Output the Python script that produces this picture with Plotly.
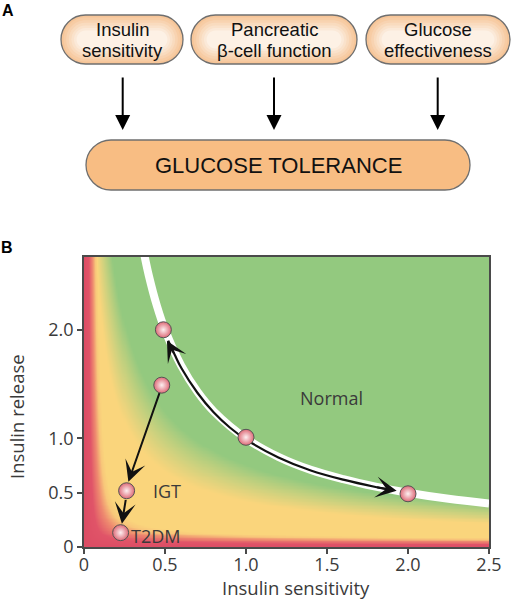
import numpy as np
import plotly.graph_objects as go

W, H = 511, 600

# ---------------- Panel A content ----------------
factor_line1 = ["Insulin", "Pancreatic", "Glucose"]
factor_line2 = ["sensitivity", "β-cell function", "effectiveness"]
outcome_label = "GLUCOSE TOLERANCE"

# ---------------- Panel B data ----------------
sens_tickvals = [0, 0.5, 1.0, 1.5, 2.0, 2.5]
sens_ticktext = ["0", "0.5", "1.0", "1.5", "2.0", "2.5"]
rel_tickvals = [0, 0.5, 1.0, 2.0]
rel_ticktext = ["0", "0.5", "1.0", "2.0"]
sens_range = [0, 2.5]
rel_range = [0, 2.67]

# white "normal" curve
curve_sens = [0.36, 0.40, 0.45, 0.50, 0.60, 0.70, 0.80, 1.00, 1.20, 1.40, 1.60, 1.80, 2.00, 2.25, 2.50]
curve_rel = [2.78, 2.50, 2.22, 2.00, 1.67, 1.43, 1.25, 1.00, 0.83, 0.71, 0.625, 0.556, 0.50, 0.444, 0.40]

# black curved arrow along the curve
path_sens = [0.52, 0.56, 0.60, 0.70, 0.80, 0.90, 1.00, 1.20, 1.40, 1.60, 1.80, 1.90]
path_rel = [1.90, 1.77, 1.65, 1.42, 1.24, 1.10, 0.99, 0.825, 0.705, 0.62, 0.552, 0.523]

# state points
pt_sens = [0.49, 0.48, 1.00, 2.00, 0.263, 0.226]
pt_rel = [2.00, 1.49, 1.01, 0.49, 0.518, 0.132]

# region labels
region_text = ["Normal", "IGT", "T2DM"]
region_sens = [1.525, 0.512, 0.44]
region_rel = [1.37, 0.516, 0.10]

# background zone levels
red_levels = [0.0, 0.011, 0.020, 0.027, 0.032]     # red -> orange -> yellow
green_levels = [0.30, 0.48, 0.68]                  # yellow -> yellow-green -> green
zone_stops = [0.0, 0.172, 0.31, 0.42, 0.5, 0.735, 1.0]
zone_colors = ["#dc4c64", "#e05468", "#ee8a6f", "#f8c77a", "#fad57c", "#c9d17e", "#93c97f"]

fig = go.Figure()

# ---- heatmap background ----
gx = np.linspace(sens_range[0], sens_range[1], 201)
gy = np.linspace(rel_range[0], rel_range[1], 201)
X = gx[None, :] * np.ones((len(gy), 1))
Y = gy[:, None] * np.ones((1, len(gx)))
U = X / sens_range[1]
V = Y / rel_range[1]
f_red = U * V / np.power(U + V + 1e-9, 0.7)
f_green = X * np.power(Y, 1.39)
Z = np.clip(f_red / red_levels[-1], 0, 1) + np.clip(
    (f_green - green_levels[0]) / (green_levels[-1] - green_levels[0]), 0, 1)
cs = [[s, c] for s, c in zip(zone_stops, zone_colors)]
fig.add_trace(go.Heatmap(x=gx, y=gy, z=Z, zmin=0, zmax=2, colorscale=cs,
                         zsmooth="best", showscale=False, hoverinfo="skip"))

fig.add_trace(go.Scatter(x=curve_sens, y=curve_rel, mode="lines",
                         line=dict(color="white", width=8, shape="spline"),
                         hoverinfo="skip", showlegend=False))
fig.add_trace(go.Scatter(x=path_sens, y=path_rel, mode="lines",
                         line=dict(color="#111111", width=2.2, shape="spline"),
                         hoverinfo="skip", showlegend=False))
fig.add_trace(go.Scatter(x=pt_sens, y=pt_rel, mode="markers",
                         marker=dict(size=16, color="#de6a77",
                                     gradient=dict(type="radial", color="#fdf0f1"),
                                     line=dict(color="#555555", width=1)),
                         hoverinfo="skip", showlegend=False))

grey = "#3a3a3a"
bfont = "Open Sans"

annotations = []
for t, x, y in zip(region_text, region_sens, region_rel):
    annotations.append(dict(x=x, y=y, xref="x", yref="y", text=t, showarrow=False,
                            xanchor="center", yanchor="middle",
                            font=dict(family=bfont, size=18, color=grey)))

def arrow(tail, tip, size=1.75):
    return dict(x=tip[0], y=tip[1], ax=tail[0], ay=tail[1], xref="x", yref="y",
                axref="x", ayref="y", text="", showarrow=True, arrowhead=3,
                arrowsize=size, arrowwidth=2, arrowcolor="#111111", standoff=0)

annotations.append(arrow((0.469, 1.43), (0.274, 0.60)))
annotations.append(arrow((0.259, 0.448), (0.234, 0.215)))
annotations.append(arrow((0.56, 1.77), (0.512, 1.90)))
annotations.append(arrow((1.80, 0.552), (1.93, 0.518)))

def px(x):
    return x / W

def py(y):
    return 1 - y / H

def ptext(x, y, text, size, family, color, angle=0):
    return dict(x=px(x), y=py(y), xref="paper", yref="paper", text=text,
                showarrow=False, xanchor="center", yanchor="middle", textangle=angle,
                font=dict(family=family, size=size, color=color))

# axis titles
annotations.append(ptext(296, 587, "Insulin sensitivity", 18.5, bfont, grey))
annotations.append(ptext(16.5, 416.5, "Insulin release", 18.5, bfont, grey, -90))

# panel letters
annotations.append(ptext(7.5, 10, "<b>A</b>", 16, "Liberation Sans", "black"))
annotations.append(ptext(6.5, 247.5, "<b>B</b>", 16, "Liberation Sans", "black"))

# ---------------- Panel A shapes ----------------
def rrect(x0, y0, x1, y1, r):
    k = 0.5523 * r
    P = lambda a, b: f"{px(a):.5f},{py(b):.5f}"
    return (f"M{P(x0 + r, y0)} L{P(x1 - r, y0)} "
            f"C{P(x1 - r + k, y0)} {P(x1, y0 + r - k)} {P(x1, y0 + r)} "
            f"L{P(x1, y1 - r)} C{P(x1, y1 - r + k)} {P(x1 - r + k, y1)} {P(x1 - r, y1)} "
            f"L{P(x0 + r, y1)} C{P(x0 + r - k, y1)} {P(x0, y1 - r + k)} {P(x0, y1 - r)} "
            f"L{P(x0, y0 + r)} C{P(x0, y0 + r - k)} {P(x0 + r - k, y0)} {P(x0 + r, y0)} Z")

shapes = []
small_boxes = [(61, 15, 183, 64), (191, 15, 357, 64), (366, 15, 510, 64)]
edge = np.array([246, 197, 152])
centre = np.array([253, 241, 229])
nl = 7
for (x0, y0, x1, y1) in small_boxes:
    r = (y1 - y0) / 2
    for i in range(nl):
        d = i * 2.6
        c = edge + (centre - edge) * (i / (nl - 1))
        col = f"rgb({int(c[0])},{int(c[1])},{int(c[2])})"
        shapes.append(dict(type="path", xref="paper", yref="paper",
                           path=rrect(x0 + d, y0 + d, x1 - d, y1 - d, r - d),
                           fillcolor=col, line=dict(width=0), layer="above"))
    shapes.append(dict(type="path", xref="paper", yref="paper",
                       path=rrect(x0, y0, x1, y1, r), fillcolor="rgba(0,0,0,0)",
                       line=dict(color="#6f6f6f", width=1.3), layer="above"))

shapes.append(dict(type="path", xref="paper", yref="paper",
                   path=rrect(86, 140, 470, 190, 25), fillcolor="#f8bd83",
                   line=dict(color="#6f6f6f", width=1.3), layer="above"))

afont = "Liberation Sans"
box_cx = [122, 274, 438]
for cx, l1, l2 in zip(box_cx, factor_line1, factor_line2):
    annotations.append(ptext(cx, 29.2, l1, 18.5, afont, "#111111"))
    annotations.append(ptext(cx, 50.0, l2, 18.5, afont, "#111111"))
annotations.append(ptext(278, 166, outcome_label, 22, afont, "#111111"))

arrow_x = [122.7, 274, 437.7]
for ax_ in arrow_x:
    annotations.append(dict(x=px(ax_), y=py(130), xref="paper", yref="paper",
                            ax=0, ay=-54, text="", showarrow=True, arrowhead=2,
                            arrowsize=1.5, arrowwidth=2, arrowcolor="#000000", standoff=0))

axis_common = dict(showline=True, linecolor="#4a4a4a", linewidth=1.5, mirror=True,
                   ticks="outside", ticklen=5, tickwidth=1.5, tickcolor="#4a4a4a",
                   showgrid=False, zeroline=False, automargin=False,
                   tickfont=dict(family=bfont, size=18, color=grey))

fig.update_layout(
    width=W, height=H, autosize=False,
    margin=dict(l=0, r=0, t=0, b=0),
    paper_bgcolor="white", plot_bgcolor="white",
    showlegend=False,
    xaxis=dict(domain=[84 / W, 489 / W], range=sens_range, tickmode="array",
               tickvals=sens_tickvals, ticktext=sens_ticktext, ticklabelstandoff=-4,
               **axis_common),
    yaxis=dict(domain=[1 - 547 / H, 1 - 257 / H], range=rel_range, tickmode="array",
               tickvals=rel_tickvals, ticktext=rel_ticktext, **axis_common),
    annotations=annotations,
    shapes=shapes,
)

fig.write_html("out.html", config={"displayModeBar": False},
               post_script="document.body.style.margin='0';")
